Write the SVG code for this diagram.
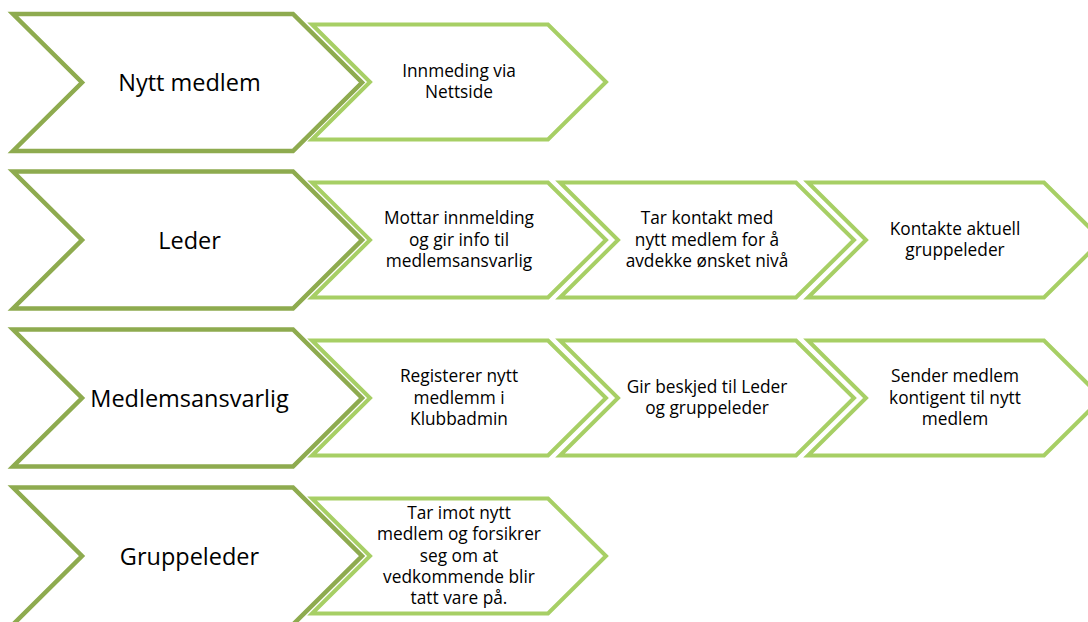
<svg xmlns="http://www.w3.org/2000/svg" xmlns:xlink="http://www.w3.org/1999/xlink" width="1088" height="622" viewBox="0 0 1088 622">
<style>
.big{fill:#ffffff;stroke:#8eab4f;stroke-width:4.5;stroke-linejoin:miter}
.small{fill:#ffffff;stroke:#a7cf65;stroke-width:4;stroke-linejoin:miter}
.bt{font-family:"Open Sans","Noto Sans",sans-serif;font-size:23.5px;fill:#000;text-anchor:middle}
.st{font-family:"Open Sans","Noto Sans",sans-serif;font-size:17.3px;fill:#000;text-anchor:middle}
</style>
<defs>
<polygon id="bigShape" points="13,-68.5 293,-68.5 362,0 293,68.5 13,68.5 82,0"/>
<polygon id="smallShape" points="312,-57.5 548,-57.5 606,0 548,57.5 312,57.5 370,0"/>
</defs>
<rect width="1088" height="622" fill="#ffffff"/>
<g id="connectors"/>

<!-- Row 1 -->
<g id="row1-role" transform="translate(0,82.5)">
<use xlink:href="#bigShape" class="big"/>
<text class="bt" x="189.5" y="8.5">Nytt medlem</text>
</g>
<g id="row1-step1" transform="translate(0,82)">
<use xlink:href="#smallShape" class="small"/>
<text class="st" x="459" y="-5.15"><tspan x="459">Innmeding via</tspan><tspan x="459" dy="21.3">Nettside</tspan></text>
</g>

<!-- Row 2 -->
<g id="row2-role" transform="translate(0,240)">
<use xlink:href="#bigShape" class="big"/>
<text class="bt" x="189.5" y="8.5">Leder</text>
</g>
<g id="row2-step1" transform="translate(0,240)">
<use xlink:href="#smallShape" class="small"/>
<text class="st" y="-15.8"><tspan x="459">Mottar innmelding</tspan><tspan x="459" dy="21.3">og gir info til</tspan><tspan x="459" dy="21.3">medlemsansvarlig</tspan></text>
</g>
<g id="row2-step2" transform="translate(248,240)">
<use xlink:href="#smallShape" class="small"/>
<text class="st" y="-15.8"><tspan x="459">Tar kontakt med</tspan><tspan x="459" dy="21.3">nytt medlem for å</tspan><tspan x="459" dy="21.3">avdekke ønsket nivå</tspan></text>
</g>
<g id="row2-step3" transform="translate(496,240)">
<use xlink:href="#smallShape" class="small"/>
<text class="st" y="-5.15"><tspan x="459">Kontakte aktuell</tspan><tspan x="459" dy="21.3">gruppeleder</tspan></text>
</g>

<!-- Row 3 -->
<g id="row3-role" transform="translate(0,398)">
<use xlink:href="#bigShape" class="big"/>
<text class="bt" x="189.5" y="8.5">Medlemsansvarlig</text>
</g>
<g id="row3-step1" transform="translate(0,398)">
<use xlink:href="#smallShape" class="small"/>
<text class="st" y="-15.8"><tspan x="459">Registerer nytt</tspan><tspan x="459" dy="21.3">medlemm i</tspan><tspan x="459" dy="21.3">Klubbadmin</tspan></text>
</g>
<g id="row3-step2" transform="translate(248,398)">
<use xlink:href="#smallShape" class="small"/>
<text class="st" y="-5.15"><tspan x="459">Gir beskjed til Leder</tspan><tspan x="459" dy="21.3">og gruppeleder</tspan></text>
</g>
<g id="row3-step3" transform="translate(496,398)">
<use xlink:href="#smallShape" class="small"/>
<text class="st" y="-15.8"><tspan x="459">Sender medlem</tspan><tspan x="459" dy="21.3">kontigent til nytt</tspan><tspan x="459" dy="21.3">medlem</tspan></text>
</g>

<!-- Row 4 -->
<g id="row4-role" transform="translate(0,556)">
<use xlink:href="#bigShape" class="big"/>
<text class="bt" x="189.5" y="8.5">Gruppeleder</text>
</g>
<g id="row4-step1" transform="translate(0,556)">
<use xlink:href="#smallShape" class="small"/>
<text class="st" y="-37.1"><tspan x="459">Tar imot nytt</tspan><tspan x="459" dy="21.3">medlem og forsikrer</tspan><tspan x="459" dy="21.3">seg om at</tspan><tspan x="459" dy="21.3">vedkommende blir</tspan><tspan x="459" dy="21.3">tatt vare på.</tspan></text>
</g>
</svg>
